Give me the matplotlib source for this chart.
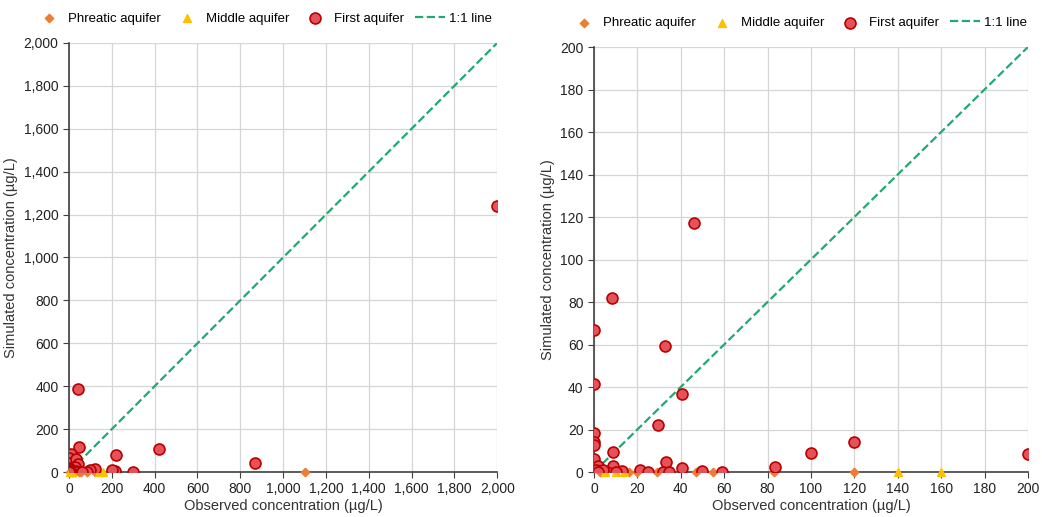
import matplotlib
matplotlib.use("Agg")
import matplotlib.pyplot as plt
from matplotlib.ticker import FuncFormatter

plt.rcParams['font.family'] = ['Liberation Sans', 'DejaVu Sans']

# First aquifer (red circles): observed vs simulated, ug/L
first_obs = [2000, 870, 420, 220, 40, 46, 300, 205, 215, 120,
             8.5, 0, 0, 32.6, 40.4, 29.5, 0, 0, 0, 8.6, 100, 33, 8.6, 40.4,
             83.4, 21, 13, 50, 25, 32, 34.5, 59, 0, 3, 6, 10, 0, 0, 0, 2,
             200, 1, 4, 2]
first_sim = [1240, 40, 105, 80, 385, 117, 0, 0, 3, 14,
             82, 67, 41.5, 59.3, 36.7, 22, 18.2, 14, 12.5, 9.4, 8.9, 4.7, 2.8, 2,
             2.4, 1, 0.5, 0.5, 0, 0, 0, 0, 0, 0, 0, 0, 2, 4, 6, 3,
             8.5, 1, 1, 0]

# Phreatic aquifer (orange diamonds)
phreatic_obs = [2.7, 16, 20, 29, 47, 55, 83, 120, 1100]
phreatic_sim = [0, 0, 0, 0, 0, 0, 0, 0, 0]

# Middle aquifer (yellow triangles)
middle_obs = [5, 10, 14, 140, 160]
middle_sim = [0, 0, 0, 0, 0]

line_xy = [0, 2000]

fig = plt.figure(figsize=(10.42, 5.17), dpi=100)
ax1 = fig.add_axes([0.0662, 0.087, 0.411, 0.830])
ax2 = fig.add_axes([0.570, 0.087, 0.4165, 0.822])

thousands = FuncFormatter(lambda v, p: f"{v:,.0f}")

for ax, lim, step, lx in [(ax1, 2000, 200, 0.453), (ax2, 200, 20, 0.47)]:
    ax.plot(line_xy, line_xy, ls='--', color='#22a873', lw=1.6, label='1:1 line', zorder=2)
    ax.scatter(phreatic_obs, phreatic_sim, marker='D', s=18, color='#ed7d31',
               label='Phreatic aquifer', zorder=3, clip_on=False)
    ax.scatter(middle_obs, middle_sim, marker='^', s=32, color='#ffc000',
               label='Middle aquifer', zorder=3, clip_on=False)
    ax.scatter(first_obs, first_sim, marker='o', s=62, facecolor='#e5525a',
               edgecolor='#b80000', linewidth=1.2, label='First aquifer', zorder=4,
               clip_on=True)
    ax.set_xlim(0, lim)
    ax.set_ylim(0, lim)
    ax.set_xticks(range(0, lim + 1, step))
    ax.set_yticks(range(0, lim + 1, step))
    ax.xaxis.set_major_formatter(thousands)
    ax.yaxis.set_major_formatter(thousands)
    ax.grid(True, color='#d6d6d6', lw=0.9)
    ax.set_axisbelow(True)
    for s in ['top', 'right']:
        ax.spines[s].set_visible(False)
    for s in ['left', 'bottom']:
        ax.spines[s].set_color('#404040')
        ax.spines[s].set_linewidth(1.2)
    ax.tick_params(labelsize=10, colors='#404040', length=4, direction='out',
                   labelcolor='#222222')
    ax.set_xlabel('Observed concentration (µg/L)', fontsize=10.5, color='#333333', labelpad=2)
    ax.set_ylabel('Simulated concentration (µg/L)', fontsize=10.5, color='#333333')

    handles, labels = ax.get_legend_handles_labels()
    order = [1, 2, 3, 0]
    ax.legend([handles[i] for i in order], [labels[i] for i in order],
              loc='lower center', bbox_to_anchor=(lx, 1.03), ncol=4,
              frameon=False, fontsize=9.5, scatterpoints=1,
              handletextpad=0.3, columnspacing=0.8, handlelength=2.3,
              borderaxespad=0)

fig.savefig('out.png', dpi=100)
